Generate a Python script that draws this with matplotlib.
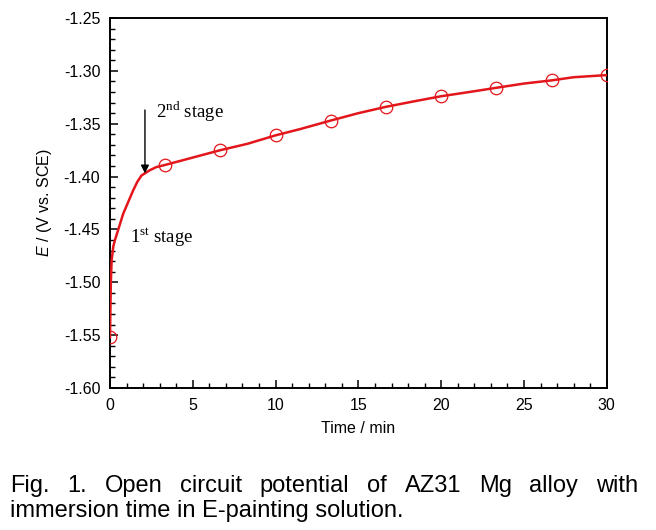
#!/usr/bin/env python3
"""Open circuit potential of AZ31 Mg alloy vs immersion time."""
import matplotlib

matplotlib.use("Agg")
import matplotlib.pyplot as plt
from matplotlib.ticker import MultipleLocator

# curve (min, V vs. SCE)
time_min = [0, 0.02, 0.05, 0.1, 0.2, 0.3, 0.5, 0.8, 1.1, 1.4, 1.65, 1.9, 2.1, 2.4,
            2.8, 3.33, 5.0, 6.67, 8.3, 10.0, 11.5, 13.33, 15.0, 16.67, 18.3, 20.0,
            21.7, 23.33, 25.0, 26.67, 28.0, 30.0]
potential = [-1.552, -1.530, -1.500, -1.479, -1.466, -1.460, -1.450, -1.435, -1.424,
             -1.413, -1.405, -1.399, -1.397, -1.394, -1.391, -1.389, -1.382, -1.375,
             -1.369, -1.361, -1.355, -1.347, -1.340, -1.334, -1.329, -1.324, -1.320,
             -1.316, -1.312, -1.309, -1.306, -1.304]
# open-circle symbols
mark_t = [0, 3.33, 6.67, 10.0, 13.33, 16.67, 20.0, 23.33, 26.67, 30.0]
mark_e = [-1.552, -1.389, -1.375, -1.361, -1.347, -1.334, -1.324, -1.316, -1.309, -1.304]

RED = "#e3161b"
SANS = "Liberation Sans"
SERIF = "Liberation Serif"

plt.rcParams["font.family"] = SANS
plt.rcParams["mathtext.fontset"] = "custom"
plt.rcParams["mathtext.rm"] = SERIF
plt.rcParams["mathtext.it"] = SANS + ":italic"

fig = plt.figure(figsize=(6.56, 5.30), dpi=100)
ax = fig.add_axes([0.1677, 0.268, 0.7573, 0.698])

ax.plot(time_min, potential, "-", color=RED, lw=1.8, zorder=3)
ax.plot(mark_t, mark_e, "o", mfc="none", mec=RED, ms=9, mew=0.9, zorder=4)

ax.set_xlim(0, 30)
ax.set_ylim(-1.60, -1.25)
ax.xaxis.set_major_locator(MultipleLocator(5))
ax.xaxis.set_minor_locator(MultipleLocator(1))
ax.yaxis.set_major_locator(MultipleLocator(0.05))
ax.yaxis.set_minor_locator(MultipleLocator(0.01))
ax.yaxis.set_major_formatter(lambda v, p: f"{v:.2f}")
ax.tick_params(which="both", direction="in", top=False, right=False, labelsize=11.5,
               color="black")
ax.tick_params(which="major", length=6, width=1.1, pad=7)
ax.tick_params(which="minor", length=3.5, width=1.0)
for s in ax.spines.values():
    s.set_linewidth(1.4)

ax.set_xlabel("Time / min", fontsize=11.5, labelpad=6)
ax.set_ylabel(r"$\mathit{E}$ / (V vs. SCE)", fontsize=11.5, labelpad=7)

ax.annotate("", xy=(2.11, -1.397), xytext=(2.11, -1.337),
            arrowprops=dict(arrowstyle="-|>", color="black", lw=1.0,
                            mutation_scale=12, shrinkA=0, shrinkB=0))
ax.text(2.8, -1.339, r"2$^{\rm nd}$ stage", family=SERIF, fontsize=13.5,
        va="center", ha="left")
ax.text(1.2, -1.458, r"1$^{\rm st}$ stage", family=SERIF, fontsize=13.5,
        va="center", ha="left")

# justified caption
cap1 = "Fig. 1. Open circuit potential of AZ31 Mg alloy with".split()
cap2 = "immersion time in E-painting solution."
x0, x1 = 10 / 656, 638 / 656
fig.canvas.draw()
r = fig.canvas.get_renderer()
words = [fig.text(x0, 1 - 492 / 530, w, fontsize=17, va="baseline", ha="left")
         for w in cap1]
widths = [t.get_window_extent(r).width / fig.bbox.width for t in words]
gap = (x1 - x0 - sum(widths)) / (len(words) - 1)
x = x0
for t, w in zip(words, widths):
    t.set_x(x)
    x += w + gap
fig.text(x0, 1 - 517 / 530, cap2, fontsize=17, va="baseline", ha="left")

fig.savefig("out.png", dpi=100)
